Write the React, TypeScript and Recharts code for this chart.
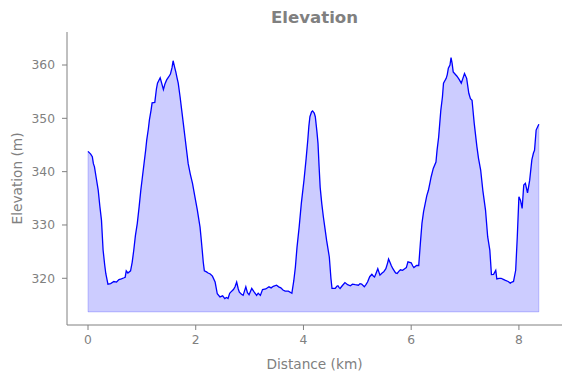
import { Area, ComposedChart, Label, Line, ReferenceLine, XAxis, YAxis } from 'recharts'

const distanceKm = [
  0.0, 0.05, 0.08, 0.1, 0.12, 0.15, 0.19, 0.22, 0.25, 0.28, 0.31, 0.33, 0.37, 0.42, 0.48, 0.53, 0.575, 0.62, 0.67,
  0.69, 0.71, 0.74, 0.79, 0.82, 0.85, 0.88, 0.915, 0.95, 0.98, 1.01, 1.04, 1.07, 1.09, 1.12, 1.14, 1.17, 1.19, 1.24,
  1.27, 1.29, 1.34, 1.37, 1.4, 1.43, 1.46, 1.5, 1.53, 1.56, 1.58, 1.61, 1.63, 1.655, 1.675, 1.71, 1.74, 1.77, 1.8,
  1.83, 1.86, 1.9, 1.94, 1.99, 2.03, 2.08, 2.1, 2.12, 2.14, 2.16, 2.2, 2.23, 2.27, 2.31, 2.36, 2.4, 2.45, 2.5, 2.54,
  2.57, 2.6, 2.63, 2.65, 2.7, 2.73, 2.76, 2.79, 2.81, 2.85, 2.88, 2.93, 2.96, 2.99, 3.04, 3.08, 3.13, 3.16, 3.2, 3.24,
  3.3, 3.36, 3.4, 3.44, 3.5, 3.54, 3.58, 3.62, 3.66, 3.72, 3.785, 3.82, 3.85, 3.88, 3.92, 3.96, 4.01, 4.05, 4.08, 4.1,
  4.12, 4.15, 4.17, 4.2, 4.22, 4.25, 4.27, 4.29, 4.31, 4.34, 4.37, 4.4, 4.43, 4.48, 4.51, 4.53, 4.59, 4.62, 4.64, 4.66,
  4.68, 4.72, 4.77, 4.82, 4.87, 4.91, 4.96, 5.02, 5.05, 5.08, 5.13, 5.16, 5.19, 5.23, 5.27, 5.3, 5.32, 5.35, 5.38,
  5.42, 5.46, 5.49, 5.53, 5.56, 5.58, 5.61, 5.63, 5.66, 5.68, 5.71, 5.74, 5.77, 5.8, 5.84, 5.88, 5.91, 5.94, 6.0, 6.03,
  6.05, 6.1, 6.14, 6.17, 6.2, 6.23, 6.26, 6.29, 6.32, 6.35, 6.37, 6.41, 6.46, 6.48, 6.51, 6.53, 6.55, 6.58, 6.6, 6.65,
  6.67, 6.69, 6.72, 6.74, 6.76, 6.78, 6.85, 6.89, 6.93, 6.96, 6.99, 7.03, 7.07, 7.1, 7.13, 7.17, 7.22, 7.25, 7.29,
  7.33, 7.38, 7.42, 7.46, 7.49, 7.53, 7.57, 7.59, 7.63, 7.67, 7.71, 7.75, 7.8, 7.84, 7.87, 7.9, 7.94, 7.97, 8.0, 8.03,
  8.06, 8.09, 8.12, 8.16, 8.2, 8.24, 8.27, 8.29, 8.32, 8.37,
]

const elevationM = [
  343.8, 343.3, 342.8, 341.5, 340.9, 339.0, 336.5, 333.5, 330.9, 325.3, 322.5, 320.9, 318.9, 319.0, 319.4, 319.3,
  319.75, 319.9, 320.1, 320.2, 321.4, 321.0, 321.4, 323.0, 325.3, 328.0, 330.3, 333.5, 336.5, 339.0, 341.5, 344.0,
  345.9, 348.0, 349.7, 351.5, 352.9, 353.0, 355.5, 356.6, 357.6, 356.5, 355.4, 356.5, 357.2, 357.8, 358.3, 359.5,
  360.8, 359.5, 358.7, 357.5, 356.6, 354.0, 351.5, 349.0, 346.5, 344.0, 341.5, 339.5, 337.8, 335.0, 332.8, 329.6,
  327.5, 325.3, 323.0, 321.4, 321.2, 321.0, 320.8, 320.4, 319.3, 317.1, 316.5, 316.7, 316.2, 316.4, 316.2, 317.2,
  317.4, 317.9, 318.4, 319.3, 318.0, 317.4, 317.0, 316.8, 318.4, 317.3, 316.9, 318.1, 317.5, 316.8, 317.2, 316.8,
  317.9, 318.0, 318.4, 318.2, 318.5, 318.7, 318.4, 318.2, 317.8, 317.6, 317.6, 317.2, 319.5, 322.1, 325.8, 329.6,
  334.0, 338.4, 342.5, 345.9, 348.5, 350.3, 351.2, 351.4, 351.0, 350.3, 347.5, 345.3, 341.0, 337.1, 334.0, 331.5,
  329.3, 327.1, 324.0, 320.0, 318.1, 318.1, 318.5, 318.6, 318.3, 318.1, 318.6, 319.2, 318.8, 318.6, 318.9, 318.8,
  318.7, 319.0, 318.9, 318.4, 318.8, 319.3, 320.3, 320.75, 320.4, 320.25, 321.0, 321.8, 320.6, 321.0, 321.2, 321.8,
  322.8, 323.6, 322.9, 322.4, 321.8, 321.5, 321.0, 320.9, 321.3, 321.6, 321.5, 321.8, 322.0, 323.1, 322.9, 322.3,
  322.0, 322.4, 322.4, 326.5, 330.3, 332.5, 334.0, 335.5, 336.5, 338.0, 339.0, 340.6, 341.8, 344.0, 346.5, 349.0,
  351.5, 354.0, 356.6, 357.5, 358.2, 359.4, 360.0, 361.4, 360.3, 358.7, 357.9, 357.3, 356.6, 357.5, 358.4, 357.5,
  354.7, 353.7, 353.4, 349.1, 344.7, 342.5, 340.3, 336.5, 332.8, 327.8, 325.3, 320.7, 320.75, 321.5, 319.9, 320.0,
  320.0, 319.8, 319.6, 319.4, 319.1, 319.3, 319.4, 321.5, 327.8, 335.3, 334.6, 333.1, 337.5, 337.8, 336.0, 338.4,
  342.2, 343.5, 344.0, 347.8, 348.9,
]

const fillBase = 313.7
const xTicks = [0, 2, 4, 6, 8]
const yTicks = [320, 330, 340, 350, 360]

const data = distanceKm.map((d, i) => ({ d, elev: elevationM[i] }))
const firstD = distanceKm[0]
const lastD = distanceKm[distanceKm.length - 1]

const grey = '#808080'
const font = 'DejaVu Sans, sans-serif'
const edge = 'rgba(0,0,255,0.2)'

export default function App() {
  return (
    <div style={{ position: 'relative', width: 563, height: 370, fontFamily: font }}>
      <div
        style={{
          position: 'absolute',
          left: 59,
          width: 495,
          top: 0,
          textAlign: 'center',
          fontSize: 16.6,
          lineHeight: '20px',
          fontWeight: 'bold',
          color: grey,
        }}
      >
        Elevation
      </div>
      <ComposedChart width={563} height={370} data={data} margin={{ top: 24, right: 9, bottom: 0, left: 0 }}>
        <XAxis
          dataKey="d"
          type="number"
          domain={[-0.39, 8.8]}
          ticks={xTicks}
          allowDataOverflow
          height={53}
          stroke={grey}
          tickSize={5}
          tickMargin={5}
          tick={{ fill: grey, fontSize: 12.3, fontFamily: font }}
        >
          <Label value="Distance (km)" position="insideBottom" offset={9} fill={grey} fontSize={13.7} fontFamily={font} />
        </XAxis>
        <YAxis
          type="number"
          domain={[311.24, 366.19]}
          ticks={yTicks}
          allowDataOverflow
          width={59}
          stroke={grey}
          tickSize={5}
          tickMargin={7}
          tick={{ fill: grey, fontSize: 12.3, fontFamily: font }}
        >
          <Label
            value="Elevation (m)"
            angle={-90}
            position="insideLeft"
            offset={9}
            fill={grey}
            fontSize={13.7}
            fontFamily={font}
            style={{ textAnchor: 'middle' }}
          />
        </YAxis>
        <Area
          dataKey="elev"
          type="linear"
          baseValue={fillBase}
          stroke="none"
          fill="#ccccff"
          fillOpacity={1}
          isAnimationActive={false}
        />
        <ReferenceLine segment={[{ x: firstD, y: fillBase }, { x: lastD, y: fillBase }]} stroke={edge} />
        <ReferenceLine segment={[{ x: firstD, y: fillBase }, { x: firstD, y: elevationM[0] }]} stroke={edge} />
        <ReferenceLine
          segment={[{ x: lastD, y: fillBase }, { x: lastD, y: elevationM[elevationM.length - 1] }]}
          stroke={edge}
        />
        <Line dataKey="elev" type="linear" stroke="#0000ff" strokeWidth={1.3} dot={false} isAnimationActive={false} />
      </ComposedChart>
    </div>
  )
}
